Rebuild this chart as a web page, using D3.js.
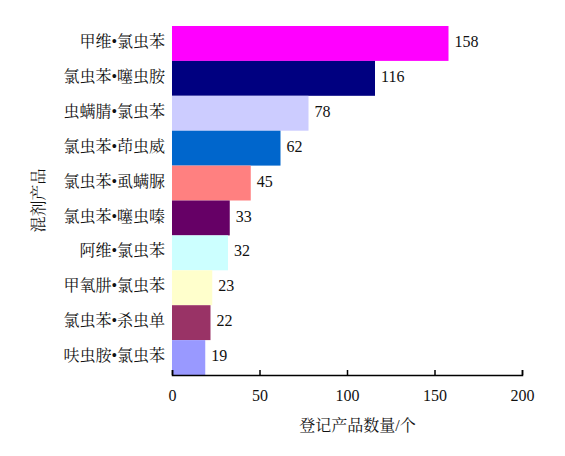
<!DOCTYPE html>
<html><head><meta charset="utf-8">
<script src="https://cdn.jsdelivr.net/npm/d3@7"></script>
<style>body{margin:0;background:#fff}text{font-family:"Liberation Serif","Noto Serif CJK SC","Noto Sans CJK SC",serif;fill:#111}</style>
</head><body>
<script>
const categories = ["甲维•氯虫苯","氯虫苯•噻虫胺","虫螨腈•氯虫苯","氯虫苯•茚虫威","氯虫苯•虱螨脲","氯虫苯•噻虫嗪","阿维•氯虫苯","甲氧肼•氯虫苯","氯虫苯•杀虫单","呋虫胺•氯虫苯"];
const values = [158,116,78,62,45,33,32,23,22,19];
const colors = ["#ff00ff","#000080","#ccccff","#0066cc","#ff8080","#660066","#ccffff","#ffffcc","#993366","#9999ff"];
const xTicks = [0,50,100,150,200];

const margin = {top: 26, right: 43, bottom: 81, left: 172};
const width = 565 - margin.left - margin.right,
      height = 456 - margin.top - margin.bottom;

const svg = d3.select('body').append('svg').attr('width',565).attr('height',456)
  .append('g').attr('transform','translate('+margin.left+','+margin.top+')');

const x = d3.scaleLinear().domain([0,200]).range([0,width]);
const y = d3.scaleBand().domain(categories).range([0,height]).padding(0);

svg.selectAll('rect.bar').data(values).enter().append('rect')
  .attr('x',0).attr('y',(d,i)=>y(categories[i]))
  .attr('width',d=>x(d)).attr('height',y.bandwidth())
  .attr('fill',(d,i)=>colors[i]);

svg.selectAll('text.val').data(values).enter().append('text')
  .attr('x',d=>x(d)+6).attr('y',(d,i)=>y(categories[i])+y.bandwidth()/2-2)
  .attr('dy','0.35em').attr('font-size',16).text(d=>d);

svg.selectAll('text.cat').data(categories).enter().append('text')
  .attr('x',-7).attr('y',d=>y(d)+y.bandwidth()/2-2).attr('dy','0.35em')
  .attr('text-anchor','end').attr('font-size',16).text(d=>d);

const xAxis = svg.append('g').attr('transform','translate(0,'+height+')')
  .call(d3.axisBottom(x).tickValues(xTicks).tickSizeInner(-5).tickSizeOuter(-5).tickPadding(15));
xAxis.select('.domain').attr('stroke','#000').attr('stroke-width',1.5);
xAxis.selectAll('line').attr('stroke','#000').attr('stroke-width',1.5);
xAxis.selectAll('text').attr('font-size',16).attr('font-family','"Liberation Serif",serif');

svg.append('text').attr('x',width*0.53).attr('y',height+56).attr('text-anchor','middle')
  .attr('font-size',16).text('登记产品数量/个');
svg.append('text').attr('transform','translate(-128,'+(height*0.5)+') rotate(-90)')
  .attr('text-anchor','middle').attr('font-size',16).text('混剂产品');
</script>
</body></html>
